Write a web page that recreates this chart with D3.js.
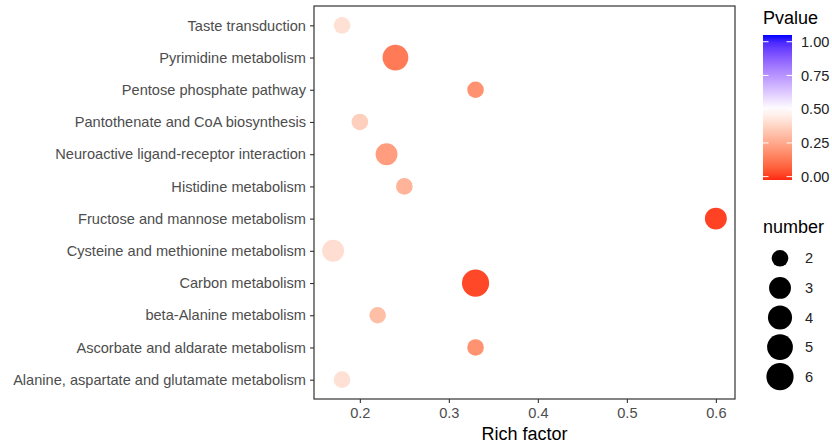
<!DOCTYPE html>
<html>
<head>
<meta charset="utf-8">
<script src="https://cdn.jsdelivr.net/npm/d3@7"></script>
<style>
  body { margin: 0; background: #fff; }
  svg { font-family: "Liberation Sans", Arial, sans-serif; }
</style>
</head>
<body>
<div id="chart"></div>
<script>
// pathways, top to bottom as drawn
const pathways = [
  "Taste transduction",
  "Pyrimidine metabolism",
  "Pentose phosphate pathway",
  "Pantothenate and CoA biosynthesis",
  "Neuroactive ligand-receptor interaction",
  "Histidine metabolism",
  "Fructose and mannose metabolism",
  "Cysteine and methionine metabolism",
  "Carbon metabolism",
  "beta-Alanine metabolism",
  "Ascorbate and aldarate metabolism",
  "Alanine, aspartate and glutamate metabolism",
];
const richFactor = [0.18, 0.24, 0.33, 0.2, 0.23, 0.25, 0.6, 0.17, 0.33, 0.22, 0.33, 0.18];
const geneCount = [2, 5, 2, 2, 3, 2, 3, 3, 6, 2, 2, 2];
const pvalue = [0.41, 0.13, 0.19, 0.36, 0.22, 0.28, 0.01, 0.4, 0.02, 0.31, 0.19, 0.41];

const xTicks = [0.2, 0.3, 0.4, 0.5, 0.6];
const pTicks = [0, 0.25, 0.5, 0.75, 1];
const sizeTicks = [2, 3, 4, 5, 6];

const W = 832, H = 443;
const panel = { left: 314, right: 735, top: 6, bottom: 399 };
const LABEL_SIZE = 14.6;
const TITLE_SIZE = 18;

const svg = d3.select("#chart").append("svg")
  .attr("width", W).attr("height", H);

const x = d3.scaleLinear()
  .domain([0.1485, 0.6215])
  .range([panel.left, panel.right]);

const y = d3.scalePoint()
  .domain(pathways)
  .range([panel.top, panel.bottom])
  .padding(0.6);

const color = d3.scaleLinear()
  .domain([-0.05, 0.5, 1.05])
  .range(["#ff0000", "#ffffff", "#0000ff"])
  .interpolate(d3.interpolateLab);

// ggplot style area scale: diameter grows with sqrt of rescaled value
const radius = d3.scaleSqrt()
  .domain([0, 4])
  .range([8.3, 13.6]);
const r = (n) => radius(n - 2);

const rows = pathways.map((p, i) => ({
  name: p, rf: richFactor[i], n: geneCount[i], p: pvalue[i],
}));

svg.append("g").attr("class", "points")
  .selectAll("circle")
  .data(rows)
  .join("circle")
  .attr("cx", (d) => x(d.rf))
  .attr("cy", (d) => y(d.name))
  .attr("r", (d) => r(d.n))
  .attr("fill", (d) => color(d.p));

svg.append("rect")
  .attr("x", panel.left).attr("y", panel.top)
  .attr("width", panel.right - panel.left)
  .attr("height", panel.bottom - panel.top)
  .attr("fill", "none")
  .attr("stroke", "#333")
  .attr("stroke-width", 1.2);

// axes
const xAxis = svg.append("g")
  .attr("transform", `translate(0,${panel.bottom})`)
  .call(d3.axisBottom(x).tickValues(xTicks).tickSize(4).tickPadding(5).tickFormat(d3.format(".1f")));
xAxis.select(".domain").remove();
xAxis.selectAll("line").attr("stroke", "#333").attr("stroke-width", 1.1);
xAxis.selectAll("text").attr("fill", "#4d4d4d").attr("font-size", LABEL_SIZE);

const yAxis = svg.append("g")
  .attr("transform", `translate(${panel.left},0)`)
  .call(d3.axisLeft(y).tickSize(4).tickPadding(4));
yAxis.select(".domain").remove();
yAxis.selectAll("line").attr("stroke", "#333").attr("stroke-width", 1.1);
yAxis.selectAll("text").attr("fill", "#4d4d4d").attr("font-size", LABEL_SIZE);

svg.append("text")
  .attr("x", (panel.left + panel.right) / 2)
  .attr("y", 440)
  .attr("text-anchor", "middle")
  .attr("font-size", TITLE_SIZE)
  .attr("fill", "#000")
  .text("Rich factor");

// colour bar legend
const barX = 763, barW = 29;
const barY = d3.scaleLinear().domain([-0.025, 1.05]).range([180, 35]);

svg.append("text")
  .attr("x", barX).attr("y", 24)
  .attr("font-size", TITLE_SIZE)
  .text("Pvalue");

const defs = svg.append("defs");
const grad = defs.append("linearGradient")
  .attr("id", "pgrad")
  .attr("x1", 0).attr("y1", 1).attr("x2", 0).attr("y2", 0);
d3.range(0, 21).forEach((i) => {
  const v = -0.025 + (1.075 * i) / 20;
  grad.append("stop")
    .attr("offset", `${(i / 20) * 100}%`)
    .attr("stop-color", color(v));
});

svg.append("rect")
  .attr("x", barX).attr("y", barY(1.05))
  .attr("width", barW).attr("height", barY(-0.025) - barY(1.05))
  .attr("fill", "url(#pgrad)");

const pTickG = svg.append("g").selectAll("g").data(pTicks).join("g");
pTickG.append("line")
  .attr("x1", barX).attr("x2", barX + 5.5)
  .attr("y1", (d) => barY(d)).attr("y2", (d) => barY(d))
  .attr("stroke", "#fff").attr("stroke-width", 1);
pTickG.append("line")
  .attr("x1", barX + barW - 5.5).attr("x2", barX + barW)
  .attr("y1", (d) => barY(d)).attr("y2", (d) => barY(d))
  .attr("stroke", "#fff").attr("stroke-width", 1);
pTickG.append("text")
  .attr("x", 801)
  .attr("y", (d) => barY(d))
  .attr("dy", "0.35em")
  .attr("font-size", LABEL_SIZE)
  .attr("fill", "#222")
  .text((d) => d3.format(".2f")(d));

// size legend
svg.append("text")
  .attr("x", barX).attr("y", 233)
  .attr("font-size", TITLE_SIZE)
  .text("number");

const sizeY = d3.scalePoint().domain(sizeTicks).range([258.3, 376.7]);
const sizeG = svg.append("g").selectAll("g").data(sizeTicks).join("g")
  .attr("transform", (d) => `translate(0,${sizeY(d)})`);
sizeG.append("circle")
  .attr("cx", 780).attr("cy", 0)
  .attr("r", (d) => r(d))
  .attr("fill", "#000");
sizeG.append("text")
  .attr("x", 805).attr("dy", "0.35em")
  .attr("font-size", LABEL_SIZE)
  .attr("fill", "#222")
  .text((d) => d);
</script>
</body>
</html>
